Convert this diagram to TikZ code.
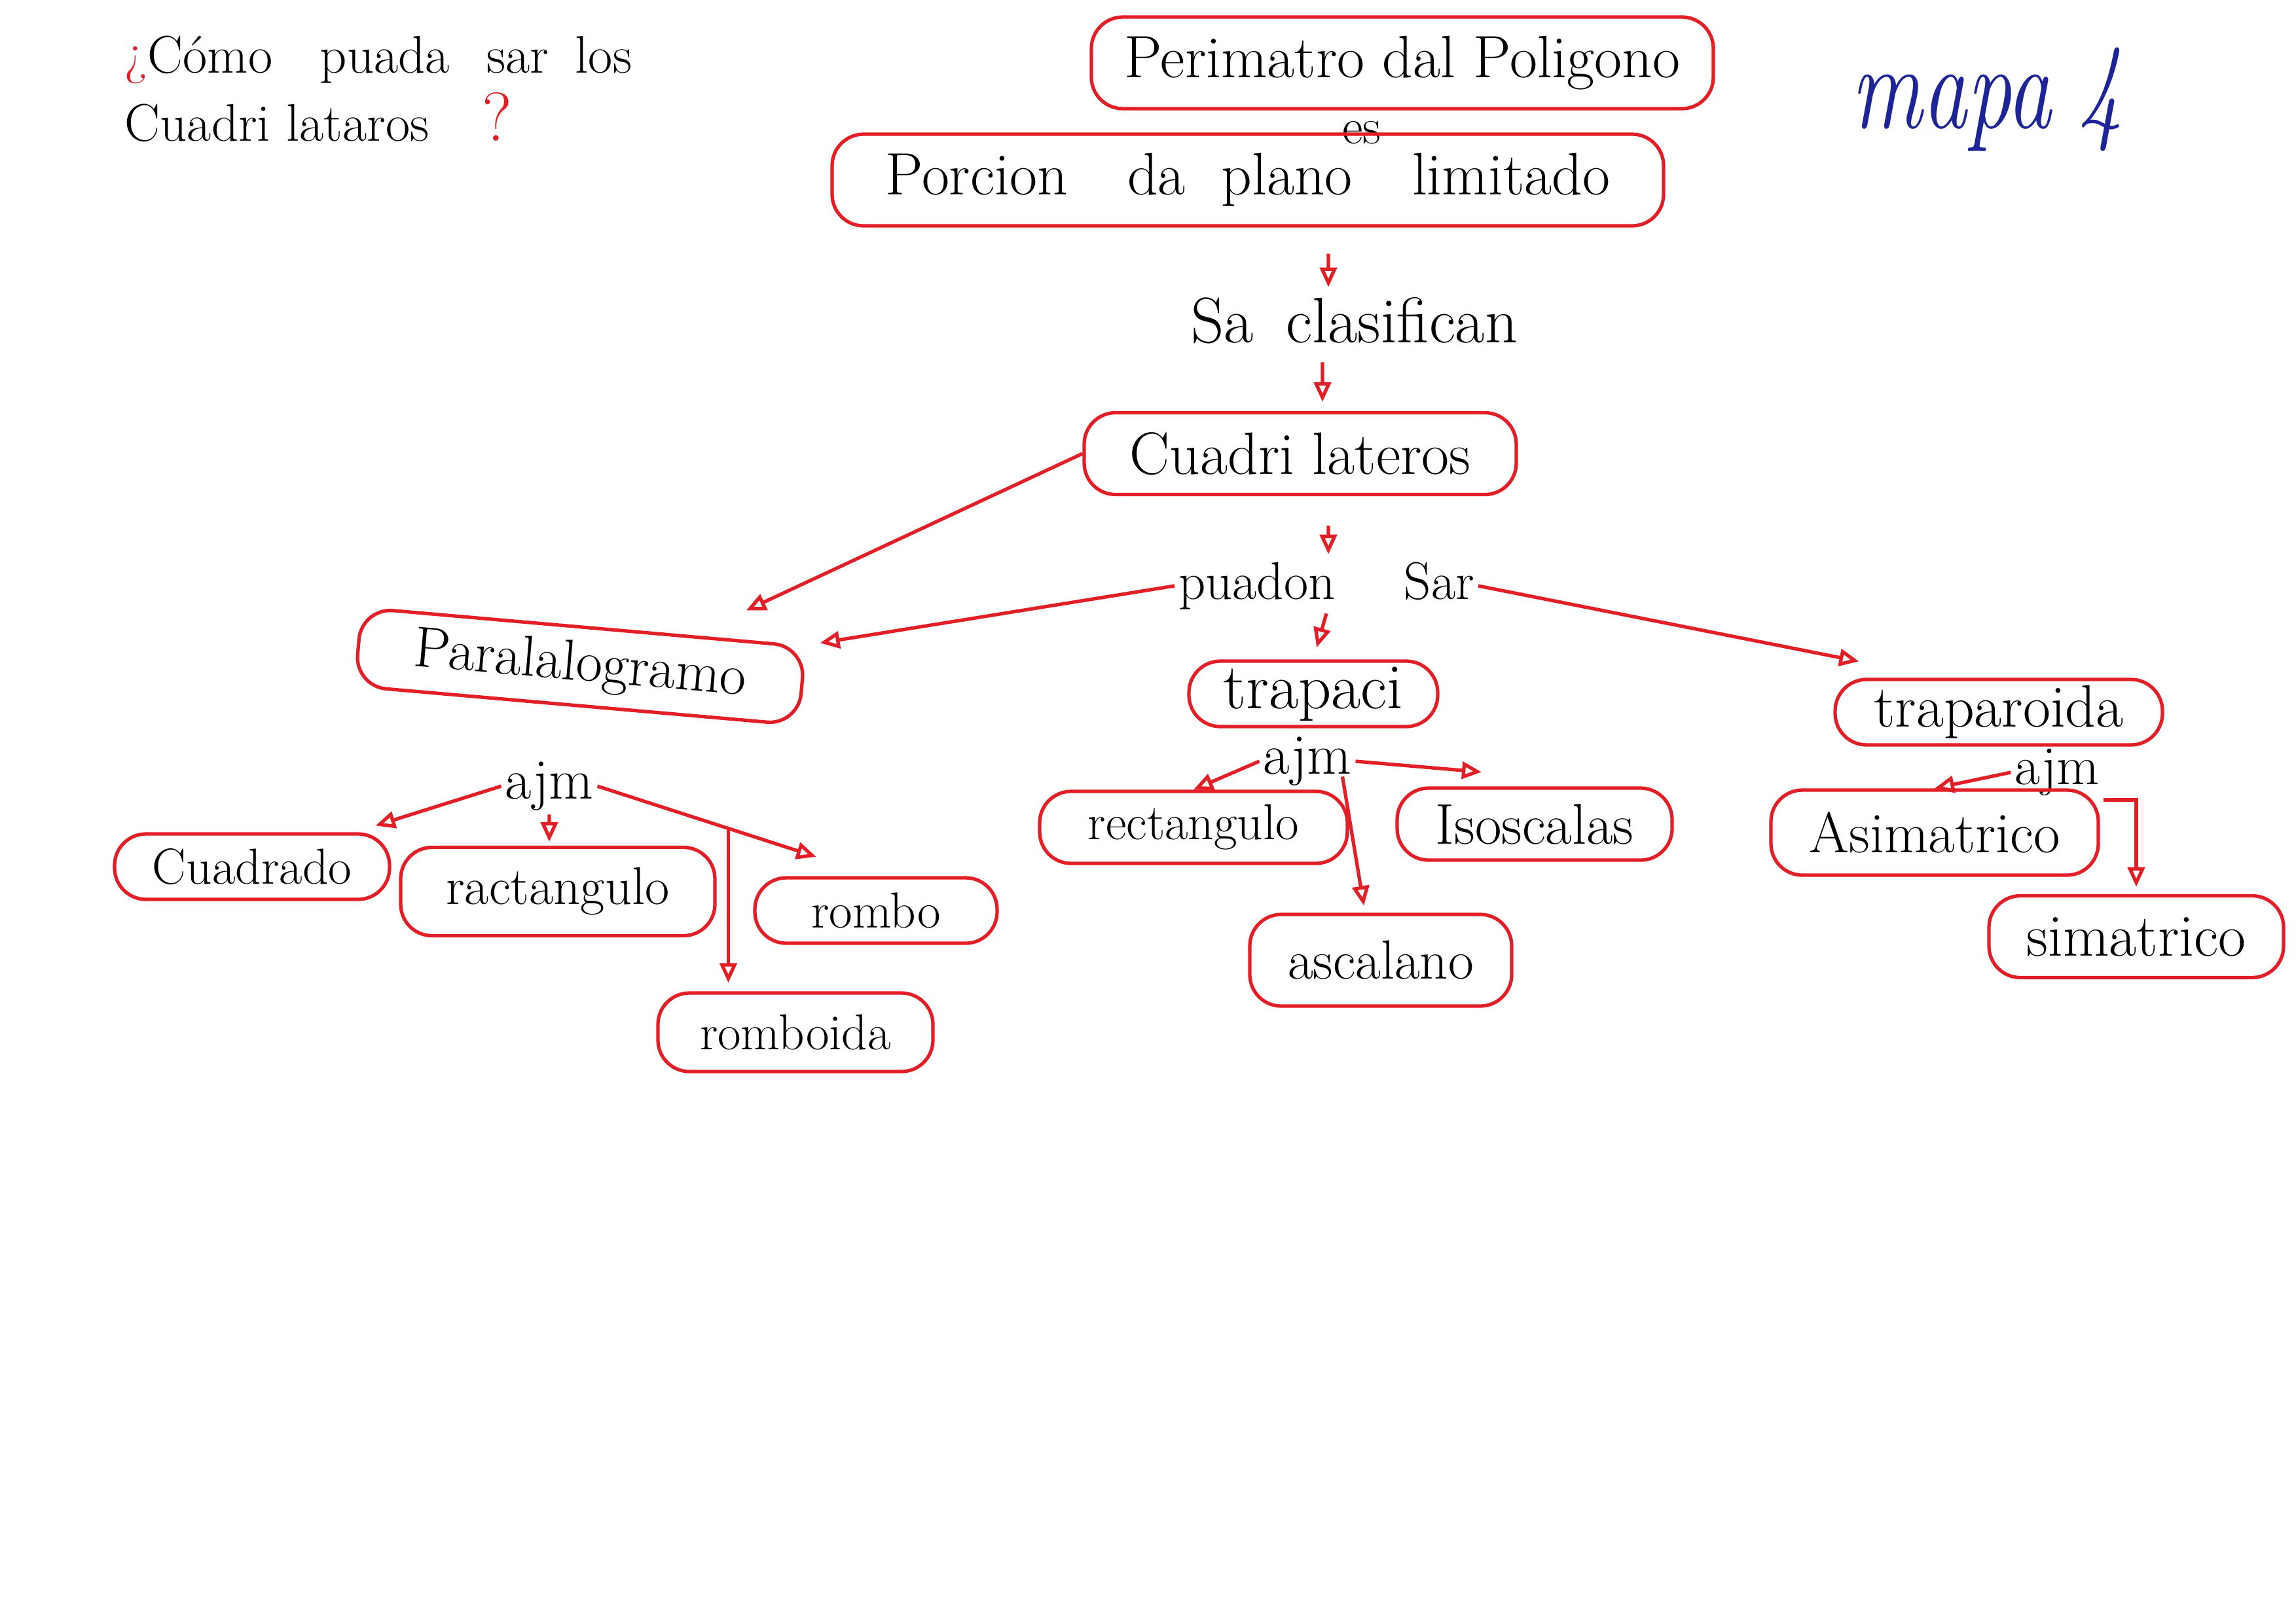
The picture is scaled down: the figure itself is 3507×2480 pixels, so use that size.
\documentclass[tikz,border=0pt]{standalone}
\usepackage{tikz}
\usetikzlibrary{arrows.meta, positioning, calc}
\definecolor{inkred}{RGB}{226,30,38}
\definecolor{inkblue}{RGB}{28,36,150}

\begin{document}
\begin{tikzpicture}[x=0.1mm, y=-0.1mm, line width=1.5pt,
    fs/.style={font=\fontsize{#1}{#1}\selectfont},
    bubble/.style={draw=inkred, rounded corners=4.8mm, inner sep=0pt, fs=25},
    leaf/.style={bubble, fs=23},
    word/.style={inner sep=1pt, fs=25},
    link/.style={inkred, -{Triangle[open, length=3mm, width=2.6mm]}}]
    \useasboundingbox (0,0) rectangle (3507,2480);

    % Question and title
    \node[anchor=north west, align=left, inner sep=0pt, fs=23] (quest) at (188,52)
        {{\color{inkred}¿}Cómo\hspace{0.9em}puada\hspace{0.7em}sar\hspace{0.5em}los\\[3pt]
         Cuadri lataros\hspace{1em}{\color{inkred}\fontsize{30}{30}\selectfont ?}};
    \node[text=inkblue, font=\fontsize{42}{42}\selectfont\itshape] (mapa) at (3035,152)
        {\scalebox{0.92}[1.25]{mapa\hspace{0.3em}4}};

    % Top of the map
    \node[bubble, fs=26, minimum width=95mm, minimum height=14mm] (perim) at (2142,96) {Perimatro dal Poligono};
    \node[word, fs=22] (es) at (2080,203) {es};
    \node[bubble, fs=26, minimum width=127mm, minimum height=14mm] (porc) at (1906,275)
        {Porcion\hspace{1em}da\hspace{0.6em}plano\hspace{1em}limitado};
    \node[word, fs=28] (clas) at (2069,490) {Sa\hspace{0.5em}clasifican};
    \node[bubble, fs=26, minimum width=66mm, minimum height=12.5mm] (cuad) at (1986,693) {Cuadri lateros};
    \node[word, fs=23] (puad) at (2026,895) {puadon\hspace{1.3em}Sar};

    \draw[link] ([xshift=12.3mm, yshift=-4mm]porc.south) -- ([xshift=-4mm, yshift=1mm]clas.north);
    \draw[link, shorten <=2.2mm, shorten >=1.4mm] ([xshift=-4.9mm]clas.south) -- ([xshift=3.4mm]cuad.north);
    \draw[link, shorten <=4.5mm, shorten >=0.6mm] ([xshift=4.3mm]cuad.south) -- ([xshift=0.3mm]puad.north);

    % Three kinds
    \node[bubble, rotate=-5, minimum width=68mm, minimum height=12mm] (para) at (886,1018) {Paralalogramo};
    \node[bubble, fs=28, minimum width=38mm, minimum height=10mm] (trpc) at (2006,1060) {trapaci};
    \node[bubble, fs=26, minimum width=50mm, minimum height=10mm] (trpz) at (3053,1088) {traparoida};

    \draw[link] (cuad.west) -- ([xshift=-9.3mm, yshift=5.3mm]para.north east);
    \draw[link, shorten >=2mm] (puad.west) -- (para.north east);
    \draw[link, shorten >=1.9mm] (puad.south) -- (trpc.north);
    \draw[link] (puad.east) -- ([xshift=3.9mm, yshift=2.5mm]trpz.north west);

    % Paralalogramo
    \node[word] (ejPar) at (839,1201) {ajm};
    \node[leaf, fs=22, minimum width=42mm, minimum height=10mm] (cdr) at (385,1324) {Cuadrado};
    \node[leaf, minimum width=48mm, minimum height=13.5mm] (rct1) at (852,1362) {ractangulo};
    \node[leaf, fs=22, minimum width=37mm, minimum height=10mm] (rmb) at (1338,1391) {rombo};
    \node[leaf, fs=22, minimum width=42mm, minimum height=12mm] (rmbd) at (1215,1577) {romboida};
    \coordinate (brc) at ($(ejPar.east)!0.47!(rmb.north)$);

    \draw[link] (ejPar.west) -- ([xshift=-2.4mm, yshift=1mm]cdr.north east);
    \draw[link, shorten >=0.6mm] (ejPar.south) -- ([xshift=-1.3mm]rct1.north);
    \draw[link, shorten >=9.6mm] (ejPar.east) -- (rmb.north);
    \draw[link, shorten >=1.3mm] (brc) -- (brc |- rmbd.north);

    % trapaci
    \node[word] (ejTrp) at (1997,1163) {ajm};
    \node[leaf, fs=22, minimum width=47mm, minimum height=11mm] (rct2) at (1823,1264) {rectangulo};
    \node[leaf, fs=25, minimum width=42mm, minimum height=11mm] (iso) at (2344,1259) {Isoscalas};
    \node[leaf, fs=24, minimum width=40mm, minimum height=14mm] (asc) at (2109,1467) {ascalano};

    \draw[link] (ejTrp.west) -- (rct2.north);
    \draw[link] (ejTrp.east) -- ([xshift=-8.1mm, yshift=2.2mm]iso.north);
    \draw[link, shorten >=1.1mm] ([xshift=-2mm, yshift=2mm]ejTrp.south east) -- ([xshift=-2.4mm]asc.north);

    % traparoida
    \node[word, fs=24] (ejTrz) at (3142,1180) {ajm};
    \node[leaf, fs=25, minimum width=50mm, minimum height=13mm] (asim) at (2955,1272) {Asimatrico};
    \node[leaf, fs=26, minimum width=45mm, minimum height=12.5mm] (sim) at (3263,1431) {simatrico};

    \draw[link] (ejTrz.west) -- (asim.north);
    \draw[link, shorten >=1.1mm] (ejTrz.south east) -| (sim.north);
\end{tikzpicture}
\end{document}
